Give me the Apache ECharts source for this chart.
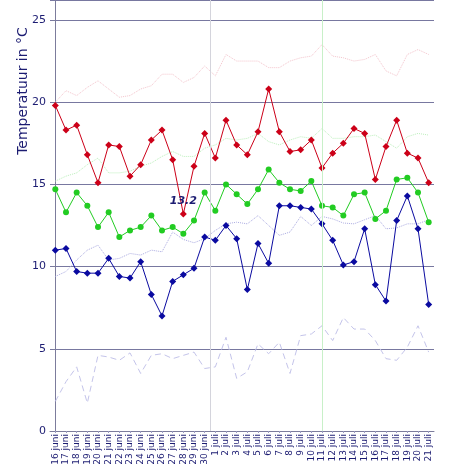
<!DOCTYPE html>
<html>
<head>
<meta charset="utf-8">
<script src="https://cdn.jsdelivr.net/npm/echarts@6/dist/echarts.min.js"></script>
<style>html,body{margin:0;padding:0;background:#fff}#c{width:460px;height:474px}</style>
</head>
<body>
<div id="c"></div>
<script>
var days = ["16 juni","17 juni","18 juni","19 juni","20 juni","21 juni","22 juni","23 juni","24 juni","25 juni","26 juni","27 juni","28 juni","29 juni","30 juni",
  "1 juli","2 juli","3 juli","4 juli","5 juli","6 juli","7 juli","8 juli","9 juli","10 juli","11 juli","12 juli","13 juli","14 juli","15 juli","16 juli","17 juli","18 juli","19 juli","20 juli","21 juli"];
var maxTemp = [19.8,18.3,18.6,16.8,15.1,17.4,17.3,15.5,16.2,17.7,18.3,16.5,13.2,16.1,18.1,16.6,18.9,17.4,16.8,18.2,20.8,18.2,17.0,17.1,17.7,16.0,16.9,17.5,18.4,18.1,15.3,17.3,18.9,16.9,16.6,15.1];
var meanTemp = [14.7,13.3,14.5,13.7,12.4,13.3,11.8,12.2,12.4,13.1,12.2,12.4,12.0,12.8,14.5,13.4,15.0,14.4,13.8,14.7,15.9,15.1,14.7,14.6,15.2,13.7,13.6,13.1,14.4,14.5,12.9,13.4,15.3,15.4,14.5,12.7];
var minTemp = [11.0,11.1,9.7,9.6,9.6,10.5,9.4,9.3,10.3,8.3,7.0,9.1,9.5,9.9,11.8,11.6,12.5,11.7,8.6,11.4,10.2,13.7,13.7,13.6,13.5,12.6,11.6,10.1,10.3,12.3,8.9,7.9,12.8,14.3,12.3,7.7];
var normalMax = [20.0,20.7,20.4,20.9,21.3,20.8,20.3,20.4,20.8,21.0,21.7,21.7,21.2,21.5,22.2,21.6,22.9,22.5,22.5,22.5,22.1,22.1,22.5,22.7,22.8,23.5,22.8,22.7,22.5,22.6,22.9,21.9,21.6,22.9,23.2,22.9];
var normalMean = [15.2,15.5,15.7,16.2,16.6,15.7,15.7,15.8,16.1,16.3,16.7,17.0,16.7,16.7,17.2,17.4,17.8,17.7,17.8,18.1,17.6,17.4,17.7,17.9,17.8,18.4,17.8,17.8,17.9,17.9,18.0,17.6,17.2,17.9,18.1,18.0];
var normalMin = [9.4,9.7,10.4,11.0,11.3,10.4,10.5,10.8,10.7,11.0,10.9,12.1,11.65,11.45,11.7,12.2,12.6,12.7,12.6,13.1,12.5,11.9,12.1,13.05,12.5,13.05,12.9,12.65,12.6,12.85,13.1,12.3,12.35,12.6,12.6,12.85];
var lowMin = [1.8,3.0,3.9,1.7,4.6,4.5,4.3,4.75,3.5,4.6,4.7,4.4,4.6,4.8,3.8,3.9,5.7,3.2,3.6,5.3,4.7,5.4,3.5,5.8,5.9,6.4,5.5,6.9,6.2,6.2,5.5,4.4,4.3,5.1,6.4,4.8];
var yTicks = [0,5,10,15,20,25];
var monthStart = 14.5;   // boundary 30 juni / 1 juli
var markDay = 25;        // 11 juli
var lowestLabel = "13.2";
var lowestIndex = 12;

var navy = '#1c1c72';
var font = 'DejaVu Sans';
var chart = echarts.init(document.getElementById('c'));
chart.setOption({
  animation: false,
  backgroundColor: '#fff',
  textStyle: {fontFamily: font},
  grid: {left: 50, right: 26, top: -1, bottom: 43, containLabel: false},
  graphic: [{
    type: 'text', x: 23, y: 91, rotation: Math.PI / 2,
    style: {text: 'Temperatuur in °C', fill: navy, font: '14px "DejaVu Sans"', textAlign: 'center', textVerticalAlign: 'middle'}
  }],
  xAxis: [{
    type: 'category', data: days, boundaryGap: true,
    axisLine: {lineStyle: {color: '#7c7c9c'}},
    axisTick: {show: true, alignWithLabel: true, length: 2, lineStyle: {color: '#9a9ac0'}},
    axisLabel: {rotate: 90, interval: 0, fontSize: 9, color: navy, margin: 3, fontFamily: font},
    splitLine: {show: false}
  }, {
    type: 'value', min: -0.5, max: 35.5, show: false
  }],
  yAxis: {
    type: 'value', min: 0, max: 26.214, interval: 5,
    axisLine: {show: true, lineStyle: {color: '#7c7c9c'}},
    axisTick: {show: true, length: 3, lineStyle: {color: '#7c7c9c'}},
    axisLabel: {color: navy, fontSize: 11, margin: 4, showMaxLabel: false, fontFamily: font,
      formatter: function (v) { return yTicks.indexOf(v) >= 0 ? String(v) : ''; }},
    splitLine: {show: true, lineStyle: {color: '#7878a0', width: 1}}
  },
  series: [
    {type: 'line', xAxisIndex: 1, data: [], silent: true,
      markLine: {symbol: 'none', silent: true, label: {show: false},
        data: [
          {xAxis: monthStart, lineStyle: {color: '#d4d4dc', type: 'solid', width: 1}},
          {xAxis: markDay, lineStyle: {color: '#c8f0c8', type: 'solid', width: 1}}
        ]}},
    {name: 'lowMin', type: 'line', data: lowMin, showSymbol: false, lineStyle: {color: '#c4c4ea', type: [6, 4], width: 1}},
    {name: 'normalMin', type: 'line', data: normalMin, showSymbol: false, lineStyle: {color: '#acace2', type: 'dotted', width: 1}},
    {name: 'normalMean', type: 'line', data: normalMean, showSymbol: false, lineStyle: {color: '#bcf0bc', type: 'dotted', width: 1}},
    {name: 'normalMax', type: 'line', data: normalMax, showSymbol: false, lineStyle: {color: '#f4c4cc', type: 'dotted', width: 1}},
    {name: 'min', type: 'line', data: minTemp, symbol: 'diamond', symbolSize: 7,
      itemStyle: {color: '#0a0aa0'}, lineStyle: {color: '#0a0aa0', width: 1}},
    {name: 'mean', type: 'line', data: meanTemp, symbol: 'circle', symbolSize: 6,
      itemStyle: {color: '#22cc22'}, lineStyle: {color: '#22cc22', width: 1}},
    {name: 'max', type: 'line', data: maxTemp.map(function (v, i) {
        return i === lowestIndex ? {value: v, label: {show: true, position: 'top', distance: 4, formatter: lowestLabel,
          color: navy, fontSize: 11, fontWeight: 'bold', fontStyle: 'italic', fontFamily: font}} : v;
      }), symbol: 'diamond', symbolSize: 7,
      itemStyle: {color: '#cc0018'}, lineStyle: {color: '#cc0018', width: 1}}
  ]
});
</script>
</body>
</html>
